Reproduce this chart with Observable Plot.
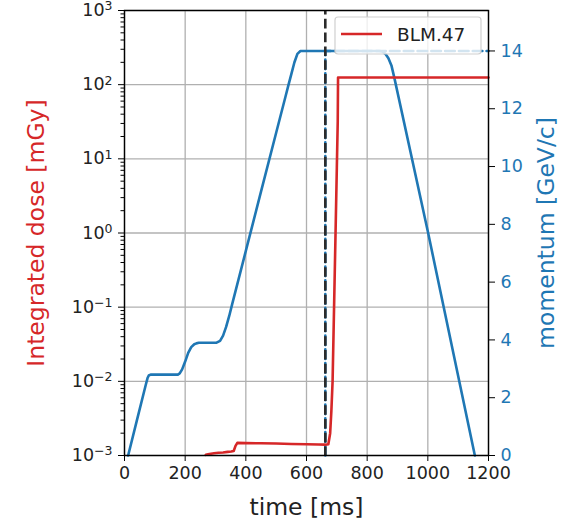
<!DOCTYPE html>
<html><head><meta charset="utf-8">
<script src="https://cdn.jsdelivr.net/npm/d3@7"></script>
<script src="https://cdn.jsdelivr.net/npm/@observablehq/plot@0.6"></script>
<style>
html,body{margin:0;padding:0;background:#fff;}
#chart{position:relative;width:564px;height:521px;}
svg{font-family:"DejaVu Sans",sans-serif;}
</style></head><body><div id="chart"></div>
<script>
// ---- data ----
const xTicks = [0, 200, 400, 600, 800, 1000, 1200];
const doseTicks = [1e-3, 1e-2, 1e-1, 1e0, 1e1, 1e2, 1e3];
const momTicks = [0, 2, 4, 6, 8, 10, 12, 14];
const momTop = 15.4;

// momentum [GeV/c] vs time [ms]
const momT = [12, 40, 70, 76, 80, 86, 176, 182, 190, 200, 210, 220, 230, 237, 245, 302, 315, 325, 335, 345, 355, 400, 450, 500, 530, 540, 550, 560, 570, 580, 840, 850, 860, 870, 880, 890, 1000, 1155];
const momV = [0, 1.18, 2.44, 2.68, 2.77, 2.8, 2.8, 2.84, 2.98, 3.25, 3.55, 3.75, 3.85, 3.88, 3.9, 3.9, 3.97, 4.15, 4.45, 4.82, 5.24, 7.08, 9.13, 11.17, 12.39, 12.8, 13.2, 13.6, 13.9, 14.0, 14.0, 13.98, 13.9, 13.75, 13.5, 13.05, 7.75, 0];

// integrated dose [mGy] BLM.47 vs time [ms]
const doseT = [268, 280, 295, 310, 325, 340, 352, 360, 366, 372, 400, 450, 500, 550, 600, 640, 662, 672, 678, 682, 686, 690, 695, 700, 703, 704, 800, 1000, 1200];
const doseV = [1.02e-3, 1.05e-3, 1.07e-3, 1.09e-3, 1.1e-3, 1.12e-3, 1.13e-3, 1.15e-3, 1.35e-3, 1.48e-3, 1.47e-3, 1.46e-3, 1.45e-3, 1.43e-3, 1.42e-3, 1.41e-3, 1.40e-3, 1.42e-3, 2e-3, 4e-3, 1e-2, 0.066, 0.7, 7.6, 32, 125, 125, 125, 125];

// reference (extraction) time and momentum
const markerT = [662];
const refT = [662, 662, 1200];
const refV = [0, 14, 14];

const seriesName = "BLM.47";
const RED = "#d62728", BLUE = "#1f77b4";

const toY = m => Math.pow(10, -3 + 6 * m / momTop);
const minor = [];
for (let e = -3; e < 3; e++) for (let k = 2; k < 10; k++) minor.push(k * Math.pow(10, e));

const mom = momT.map((t, i) => ({t, y: toY(momV[i])}));
const ref = refT.map((t, i) => ({t, y: toY(refV[i])}));
const dose = doseT.map((t, i) => ({t, y: doseV[i]}));

const svg = Plot.plot({
  width: 564, height: 521,
  marginLeft: 124, marginRight: 76, marginTop: 10, marginBottom: 66,
  style: {fontFamily: "DejaVu Sans", fontSize: "17.5px", background: "#fff", color: "#222"},
  x: {domain: [0, 1200]},
  y: {type: "log", domain: [1e-3, 1e3]},
  marks: [
    Plot.gridX(xTicks, {stroke: "#b0b0b0", strokeOpacity: 1, strokeWidth: 1.3}),
    Plot.gridY(doseTicks, {stroke: "#b0b0b0", strokeOpacity: 1, strokeWidth: 1.3}),
    Plot.line(mom, {x: "t", y: "y", stroke: BLUE, strokeWidth: 2.6}),
    Plot.line(ref, {x: "t", y: "y", stroke: BLUE, strokeWidth: 2.6, strokeDasharray: "9.6,4.2"}),
    Plot.ruleX(markerT, {stroke: "#2b2b2b", strokeWidth: 2.6, strokeDasharray: "9.6,4.2", strokeDashoffset: 5}),
    Plot.line(dose, {x: "t", y: "y", stroke: RED, strokeWidth: 2.6}),
    Plot.frame({stroke: "#000", strokeWidth: 1.4}),
    Plot.axisX(xTicks, {tickSize: 6, tickPadding: 5, label: null, stroke: "#000", fill: "#222", fontSize: 17.5, tickFormat: d => String(d)}),
    Plot.axisY(doseTicks, {anchor: "left", tickSize: 6, tickPadding: 6, label: null, stroke: "#000", fill: "#222", fontSize: 17.5,
      tickFormat: d => "10^" + Math.round(Math.log10(d)), className: "doseaxis"}),
    Plot.axisY(minor, {anchor: "left", tickSize: 3.5, label: null, stroke: "#000", tickFormat: () => ""}),
    Plot.axisY(momTicks.map(toY), {anchor: "right", tickSize: 6, label: null, stroke: "#000", tickFormat: () => ""}),
    Plot.text(momTicks, {y: d => toY(d), text: d => String(d), frameAnchor: "right", dx: 12, textAnchor: "start", fill: BLUE, fontSize: 17.5}),
    Plot.text(["Integrated dose [mGy]"], {frameAnchor: "left", text: d => d, rotate: -90, dx: -88, textAnchor: "middle", fill: RED, fontSize: 23.5}),
    Plot.text(["momentum [GeV/c]"], {frameAnchor: "right", text: d => d, rotate: -90, dx: 58, textAnchor: "middle", fill: BLUE, fontSize: 23.5}),
    Plot.text(["time [ms]"], {frameAnchor: "bottom", text: d => d, dy: 59, textAnchor: "middle", fill: "#222", fontSize: 23.5})
  ]
});

// superscript exponents on the log axis
d3.select(svg).selectAll(".doseaxis text").each(function() {
  const el = d3.select(this);
  const s = el.text();
  const exp = s.split("^")[1].replace("-", "\u2212");
  el.text(null);
  el.append("tspan").text("10");
  el.append("tspan").attr("dy", "-0.45em").attr("font-size", "12.5px").text(exp);
});

// legend
const lg = d3.select(svg).append("g").attr("text-anchor", "start");
lg.append("rect").attr("x", 335).attr("y", 17).attr("width", 146).attr("height", 37).attr("rx", 3)
  .attr("fill", "#fff").attr("fill-opacity", 0.8).attr("stroke", "#d0d0d0").attr("stroke-width", 1.2);
lg.append("line").attr("x1", 341).attr("x2", 382).attr("y1", 34).attr("y2", 34)
  .attr("stroke", RED).attr("stroke-width", 2.6);
lg.append("text").attr("x", 397).attr("y", 34).attr("dy", "0.36em").attr("font-size", 18.5)
  .attr("fill", "#222").text(seriesName);

document.getElementById("chart").appendChild(svg);
</script></body></html>
